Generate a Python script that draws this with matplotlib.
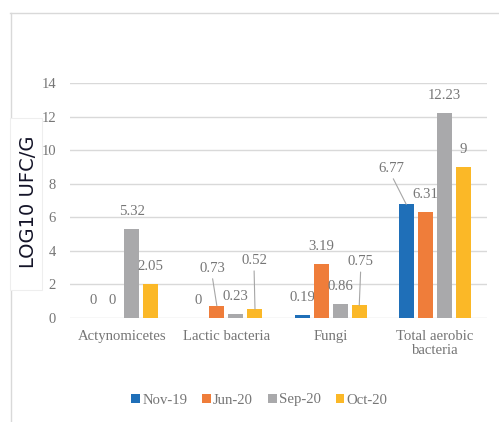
import matplotlib.pyplot as plt
from matplotlib.patches import Rectangle
from matplotlib.lines import Line2D
import numpy as np

categories = ['Actynomicetes', 'Lactic bacteria', 'Fungi', 'Total aerobic\nbacteria']
series = ['Nov-19', 'Jun-20', 'Sep-20', 'Oct-20']
nov19 = [0, 0, 0.19, 6.77]
jun20 = [0, 0.73, 3.19, 6.31]
sep20 = [5.32, 0.23, 0.86, 12.23]
oct20 = [2.05, 0.52, 0.75, 9]
colors = ['#1f6fb8', '#ef7d3a', '#a9a9ab', '#fbb827']

# labels that sit higher with a leader line: (category, series) -> offset in points
moved = {(1, 1): (-3.5, 27.1), (1, 3): (-0.7, 35.3),
         (2, 3): (1.1, 31.7), (3, 0): (-10.8, 26.0)}

serif = 'Liberation Serif'
grey = '#767676'
fs = 10.6

fig = plt.figure(figsize=(4.99, 4.22), dpi=100)
ax = fig.add_axes([70 / 499, 1 - 318 / 422, 417 / 499, 235 / 422])

x = np.arange(len(categories))
step = 0.183
width = 0.144
for i, (name, vals) in enumerate(zip(series, [nov19, jun20, sep20, oct20])):
    xs = x + (i - 1.5) * step
    ax.bar(xs, vals, width, color=colors[i], label=name, zorder=3)
    for j, v in enumerate(vals):
        if (j, i) in moved:
            dx, dy = moved[(j, i)]
            ax.annotate(f'{v:g}', xy=(xs[j], v), xytext=(dx, dy), textcoords='offset points',
                        ha='center', va='center', fontsize=fs, family=serif, color=grey,
                        arrowprops=dict(arrowstyle='-', color='#a6a6a6', lw=0.8,
                                        shrinkA=1, shrinkB=0, relpos=(0.5, 0)))
        else:
            ax.annotate(f'{v:g}', xy=(xs[j], v), xytext=(0, 12.6), textcoords='offset points',
                        ha='center', va='center', fontsize=fs, family=serif, color=grey)

ax.set_xlim(-0.5, 3.5)
ax.set_ylim(0, 14)
ax.set_yticks(range(0, 15, 2))
ax.set_xticks(x)
ax.set_xticklabels(categories, family=serif, fontsize=fs, color=grey, linespacing=1.15)
ax.tick_params(axis='both', length=0, labelcolor=grey)
ax.tick_params(axis='y', pad=10, labelsize=10.5)
ax.tick_params(axis='x', pad=8.5)
for lbl in ax.get_yticklabels():
    lbl.set_family(serif)
ax.grid(axis='y', color='#d9d9d9', lw=1, zorder=0)
ax.set_axisbelow(True)
for s in ax.spines.values():
    s.set_visible(False)

# outer chart frame
fig.add_artist(Line2D([10 / 499, 1], [1 - 13 / 422] * 2, color='#d9d9d9', lw=1))
fig.add_artist(Line2D([10.5 / 499] * 2, [0, 1 - 13 / 422], color='#d9d9d9', lw=1))
fig.add_artist(Rectangle((10 / 499, 1 - 290 / 422), 32 / 499, 172 / 422,
                         facecolor='white', edgecolor='#eeeeee', lw=0.8, zorder=5))
fig.text(29 / 499, 1 - 202 / 422, 'LOG10 UFC/G', rotation=90, ha='center', va='center',
         fontsize=14, family='DejaVu Sans', color='#141428', zorder=6)

fig.legend(loc='center', bbox_to_anchor=(0.52, 1 - 400 / 422), ncol=4, frameon=False,
           handlelength=0.6, handleheight=0.6, handletextpad=0.15, columnspacing=1.0,
           prop={'family': serif, 'size': fs}, labelcolor=grey)

fig.savefig('out.png', dpi=100)
